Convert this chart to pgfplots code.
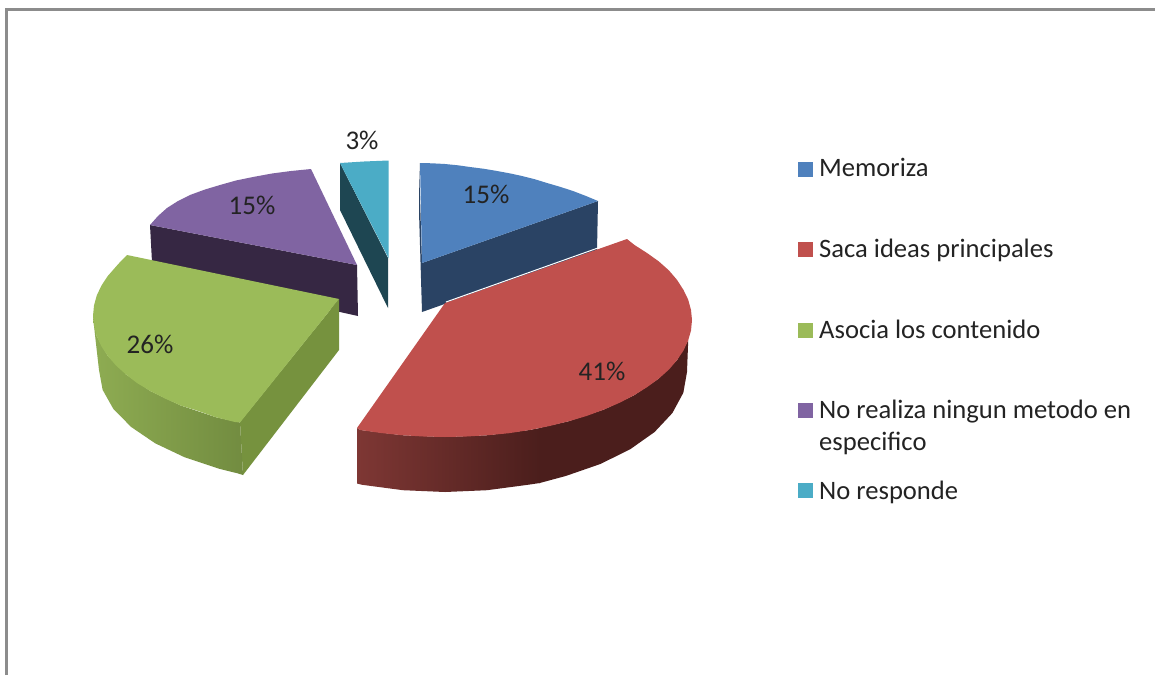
\documentclass[border=0pt]{standalone}
\usepackage{fontspec}
\setmainfont{Carlito}
\usepackage{pgfplots}
\pgfplotsset{compat=1.18}
\definecolor{cB}{RGB}{79,129,189}
\definecolor{cBd}{RGB}{42,67,100}
\definecolor{cR}{RGB}{192,80,77}
\definecolor{cRl}{RGB}{126,55,52}
\definecolor{cRd}{RGB}{75,30,28}
\definecolor{cG}{RGB}{155,187,89}
\definecolor{cGl}{RGB}{142,172,82}
\definecolor{cGd}{RGB}{114,140,64}
\definecolor{cGs}{RGB}{118,146,62}
\definecolor{cP}{RGB}{128,100,162}
\definecolor{cPd}{RGB}{54,39,67}
\definecolor{cT}{RGB}{75,172,198}
\definecolor{cTd}{RGB}{30,70,82}
\definecolor{txt}{RGB}{35,35,35}
\tikzset{
  lbl/.style={font=\fontsize{27}{32}\selectfont, text=txt, inner sep=0pt, anchor=base},
  leg/.style={font=\fontsize{26.6}{32}\selectfont, text=txt, inner sep=0pt, anchor=base west},
}
\begin{document}
\begin{tikzpicture}
\begin{axis}[
  scale only axis, width=1155pt, height=675pt,
  xmin=0, xmax=1155, ymin=0, ymax=675, y dir=reverse,
  hide axis, clip=true,
  every axis plot/.append style={mark=none},
]
% page and frame
\addplot[fill=white, draw=none] coordinates {(0,0) (1155,0) (1155,675) (0,675)} --cycle;
\addplot[draw=black!45, line width=2.4pt] coordinates {(6.5,675) (6.5,9.5) (1155,9.5)};
% No responde
\addplot[fill=cTd, draw=none] coordinates {(340,163) (388,258) (388,308) (340,210)} --cycle;
\addplot[fill=cT, draw=none] coordinates {(340,163) (364,161.5) (388.5,160.5) (388.5,258)} --cycle;
% No realiza
\addplot[fill=cPd, draw=none] coordinates {(150,225) (357,265) (358,316) (340,312) (152,262)} --cycle;
\addplot[fill=cP, draw=none] coordinates {(150,225) (158,216) (167,208) (178,201) (190,195) (205,189.5) (220,185) (236,180.5) (253,177) (272,173.5) (291,171) (311,169) (357,265)} --cycle;
% Memoriza
\addplot[fill=cBd, draw=none] coordinates {(419,163) (422,263) (598,201) (597,250) (422,312) (419,212)} --cycle;
\addplot[fill=cB, draw=none] coordinates {(420,163) (432,163.3) (445,164) (458,165.3) (470,167) (484,168.8) (497,171) (510,173.4) (522,176) (535,179.3) (547,183) (560,186.8) (573,191) (586,196) (598,201) (422,263)} --cycle;
% Asocia los contenido
\addplot[fill=cGs, draw=none] coordinates {(240,422) (339,299) (339,350) (243,475)} --cycle;
\addplot[left color=cGl, right color=cGd, draw=none] coordinates {(93,316) (96.7,336.3) (107.8,356) (126,374.5) (150.6,391.2) (180.9,405.6) (216,417.3) (240,422.5) (243,475) (237.5,473.3) (219,468.7) (184.7,457.3) (155.2,443.3) (131.2,427) (113.4,409) (102.6,389.8) (99,370) (95,335)} --cycle;
\addplot[fill=cG, draw=none] coordinates {(127,255) (339,299) (240,422.5) (235,422) (216,417.3) (197,410.5) (180.9,405.6) (165,398.5) (150.6,391.2) (137,383) (126,374.5) (116,365.5) (107.8,356) (101.5,346.5) (96.7,336.3) (94,326) (93,316) (94,305.5) (96.7,295.6) (101.5,285.5) (107.8,276) (116.1,266.5) (121,261)} --cycle;
% Saca ideas principales
\addplot[left color=cRl, right color=cRd, draw=none] coordinates {(357,428) (360.5,430) (402.1,435.2) (445,437) (487.9,435.2) (529.5,430) (540,428) (540,483) (527.8,484.8) (487,490.2) (445,492) (403,490.2) (362.2,484.8) (357,483.5)} --cycle;
\addplot[fill=cRd, draw=none] coordinates {(539,428) (568.5,421.3) (603.8,409.6) (634.2,395.2) (658.9,378.5) (677.1,360) (688.2,340.3) (687,372) (683.3,392.8) (672.4,413) (654.6,432) (630.4,449.1) (600.6,463.9) (566,475.9) (539,483.2)} --cycle;
\addplot[fill=cR, draw=none] coordinates {(357,428) (445,303) (627,239) (634.2,244.8) (647,253) (658.9,261.5) (669,270.5) (677.1,280) (683.5,290) (688.2,299.7) (691,310) (692,320) (691,330.5) (688.2,340.3) (683.5,350.5) (677.1,360) (669,369.5) (658.9,378.5) (647,387.2) (634.2,395.2) (619.5,402.8) (603.8,409.6) (586.5,416) (568.5,421.3) (549.5,426) (529.5,430) (509,433.2) (487.9,435.2) (466.5,436.5) (445,437) (423.5,436.5) (402.1,435.2) (381,433) (360.5,430)} --cycle;
\addplot[draw=white, line width=1pt] coordinates {(446,302) (626,238)};
% legend swatches
\addplot[only marks, mark=square*, mark size=7.2pt, color=cB] coordinates {(805,169)};
\addplot[only marks, mark=square*, mark size=7.2pt, color=cR] coordinates {(805,249)};
\addplot[only marks, mark=square*, mark size=7.2pt, color=cG] coordinates {(805,330)};
\addplot[only marks, mark=square*, mark size=7.2pt, color=cP] coordinates {(805,410)};
\addplot[only marks, mark=square*, mark size=7.2pt, color=cT] coordinates {(805,490)};
% labels
\node[lbl] at (axis cs:486,203) {15\%};
\node[lbl] at (axis cs:602,380) {41\%};
\node[lbl] at (axis cs:150,353) {26\%};
\node[lbl] at (axis cs:252,214) {15\%};
\node[lbl] at (axis cs:362,149) {3\%};
\node[leg] at (axis cs:819,176) {Memoriza};
\node[leg] at (axis cs:819,257) {Saca ideas principales};
\node[leg] at (axis cs:819,338) {Asocia los contenido};
\node[leg] at (axis cs:819,418) {No realiza ningun metodo en};
\node[leg] at (axis cs:819,450) {especifico};
\node[leg] at (axis cs:819,499) {No responde};
\end{axis}
\end{tikzpicture}
\end{document}
